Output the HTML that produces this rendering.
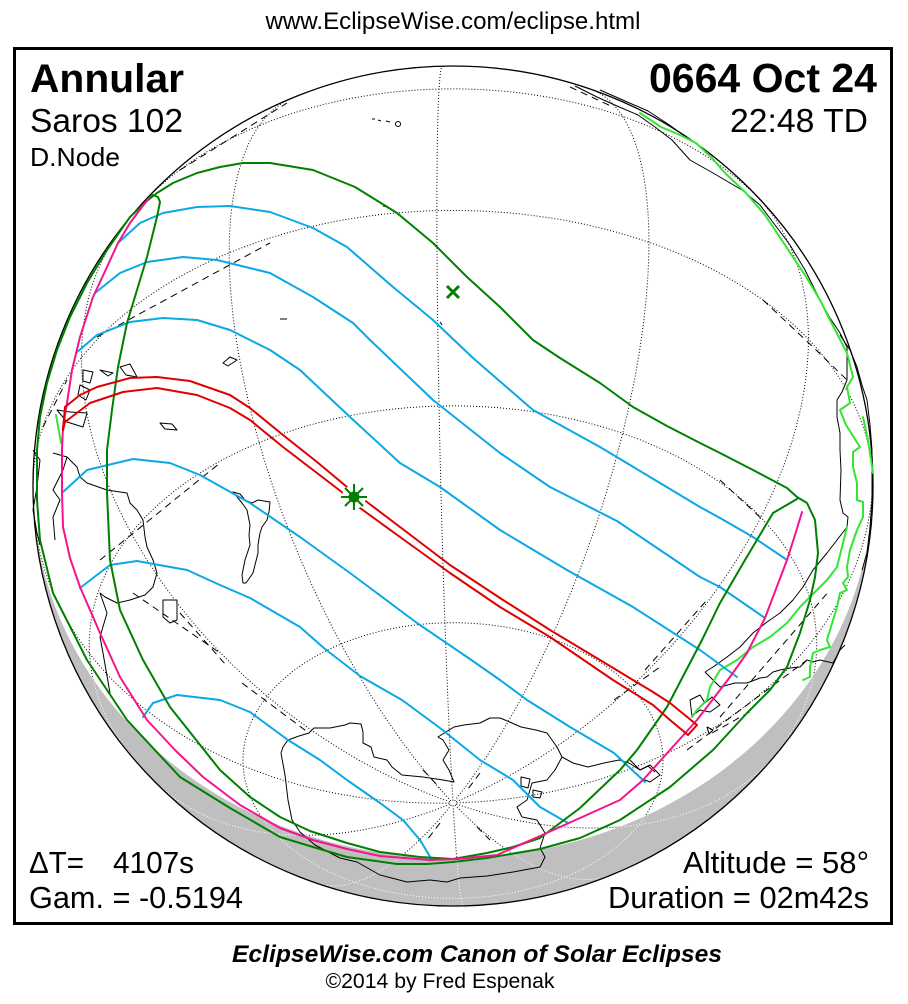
<!DOCTYPE html>
<html><head><meta charset="utf-8">
<style>html,body{margin:0;padding:0;background:#fff}svg{display:block}</style>
</head><body>
<svg width="908" height="1004" viewBox="0 0 908 1004" xmlns="http://www.w3.org/2000/svg" font-family="'Liberation Sans', Arial, sans-serif">
<defs>
<clipPath id="globe"><circle cx="453" cy="486" r="420"/></clipPath>
<clipPath id="day"><path d="M33.06,493.33 A420,372 -1 0,0 459.49,857.94 A420,372 -1 0,0 872.94,478.67 A420,420 0 0,0 453,66 A420,420 0 0,0 33.06,493.33 Z"/></clipPath>
</defs>
<rect width="908" height="1004" fill="#fff"/>

<!-- texts -->
<text x="453" y="29" font-size="24" text-anchor="middle" textLength="375" lengthAdjust="spacingAndGlyphs">www.EclipseWise.com/eclipse.html</text>
<rect x="14.5" y="48.5" width="877" height="875" fill="none" stroke="#000" stroke-width="3"/>

<!-- globe -->
<circle cx="453" cy="486" r="420" fill="#bfbfbf"/>
<path d="M33.06,493.33 A420,372 -1 0,0 459.49,857.94 A420,372 -1 0,0 872.94,478.67 A420,420 0 0,0 453,66 A420,420 0 0,0 33.06,493.33 Z" fill="#fff"/>
<g clip-path="url(#globe)"><path id="gw" d="" fill="none" stroke="#fff" stroke-width="1" stroke-dasharray="1 2"/></g>
<g clip-path="url(#day)"><path id="gb" d="" fill="none" stroke="#000" stroke-width="1" stroke-dasharray="1 2"/></g>

<!-- dashed lines -->
<g fill="none" stroke="#000" stroke-width="1" stroke-dasharray="7 5" clip-path="url(#globe)">
<path d="M100,560 L220,463"/>
<path d="M133,593 L220,653"/>
<path d="M180,613 L226,665"/>
<path d="M242,683 L309,733"/>
<path d="M614,700 L660,667"/>
<path d="M645,670 L707,600"/>
<path d="M712,733 L753,710"/>
<path d="M763,300 L813,347 L847,380"/>
<path d="M720,480 L763,520"/>
<path d="M687,750 L807,660"/>
<path d="M720,717 L830,590"/>
<path d="M97,337 L270,243"/>
<path d="M43,427 L67,380"/>
<path d="M180,170 L287,103"/>
<path d="M570,87 L613,107"/>
<path d="M423,770 L440,788"/>
<path d="M480,773 L468,789"/>
<path d="M440,823 L427,840"/>
<path d="M477,827 L490,840"/>
</g>

<!-- coastlines -->
<g fill="none" stroke="#000" stroke-width="1" stroke-linejoin="round">
<path d="M281,753 L283,747 288,740 299,736 309,733 314,728 330,728 345,725 350,723 361,724 363,732 363,743 371,747 374,757 387,760 392,767 402,775 423,777 443,780 454,782 449,770 443,760 449,750 443,740 438,737 449,730 454,727 464,725 480,723 490,718 500,718 505,720 521,727 536,730 547,733 552,740 557,747 562,757 573,763 588,767 604,763 619,760 629,763 640,770 648,766 655,772"/>
<path d="M281,753 L285,775 288,800 292,820 300,832 315,845 340,858 357,862 380,875 407,882 430,880 447,882 460,878 487,876 513,872 540,867 545,857 540,848 545,833 537,820 522,817 517,807 527,800 532,783 547,780 555,770 562,757"/>
<path d="M521,777 L530,779 528,788 521,786 Z M533,790 L542,792 540,798 533,797 Z"/>
<path d="M63,470 L67,457 77,467 80,477 87,483 107,490 120,492 127,493 130,503 137,510 143,520 145,537 147,547 153,560 157,573 153,587 145,595 130,600 117,603 105,597 100,593 107,613 100,637 103,653 110,693"/>
<path d="M33,450 L40,460 37,487 33,510 37,533 40,545"/>
<path d="M53,453 L67,457"/>
<path d="M63,470 L53,490 60,500 53,517 55,540"/>
<path d="M57,410 L70,412 87,413 83,427 67,422 Z"/>
<path d="M163,600 L177,600 177,620 170,623 163,617 Z"/>
<path d="M83,370 L93,372 90,383 83,381 Z"/>
<path d="M100,370 L113,373 108,376 Z"/>
<path d="M120,367 L130,364 137,377 126,375 Z"/>
<path d="M80,385 L90,390 86,400 78,395 Z"/>
<path d="M160,423 L172,424 177,430 165,429 Z"/>
<path d="M223,363 L230,357 237,360 228,366 Z"/>
<path d="M233,492 L240,494 245,500 252,503 258,500 270,502 269,512 267,520 262,527 260,533 258,545 258,553 255,565 253,573 246,583 243,583 242,575 245,560 250,545 249,535 250,525 247,510 242,503 Z"/>
<path d="M372,119 L375,119 M378,120 L381,121 M386,121 L390,122"/>
<circle cx="398" cy="124" r="2.5"/>
<path d="M280,319 L287,319 M440,322 L442,325 M383,206 L388,207"/>
<path d="M820,300 L830,318 840,333 847,347 847,365 847,380 842,392 837,400 837,417 840,433 840,450 841,470 840,500 843,513 848,517 847,527 837,540 827,553 813,570 803,587 793,600 780,613 767,622 753,633 740,647 727,657 713,667 705,672"/>
<path d="M840,335 L850,350 857,367 862,385 867,400 870,425 872,450 872,475 872,500 870,527 867,553 862,570"/>
<path d="M575,86 L597,97 617,106 638,115 655,127 672,140 690,160 713,173 742,190 760,205 775,225 790,245 805,270 820,300"/>
<path d="M600,90 L625,101 648,111 668,124 690,140"/>
<path d="M705,672 L720,687 735,683 747,683 760,678 767,677 773,672 780,670 790,668 800,667 807,660 813,662 820,660 833,663 840,650 845,645"/>
<path d="M690,700 L700,695 705,703 712,697 720,705 710,712 700,710 692,716 Z"/>
<path d="M707,727 L713,730 709,734 Z"/>
<path d="M630,760 L640,770 650,765 660,775 650,782 640,778"/>
</g>
<circle cx="453" cy="486" r="420" fill="none" stroke="#000" stroke-width="1.3"/>

<!-- colored curves -->
<g fill="none" stroke-width="2" stroke-linejoin="round" stroke-linecap="round">
<g stroke="#33e633">
<path d="M640,113 L661,127 680,135 696,143 712,158 725,173 745,192 765,215 785,245 805,275 820,300 830,320 847,353 853,377 847,387 850,403 840,410 846,425 860,447 853,452 853,467 857,483 857,500 863,502 863,517 857,530 850,550 847,567 848,577 843,583 847,590 840,593 837,607 830,630 827,640 830,647 820,650 813,653 810,667 810,677 803,680"/>
<path d="M863,417 L868,440 873,473"/>
<path d="M847,527 L837,567 827,580 810,597 800,607 787,623 770,637 753,647 737,660 720,670 710,687 707,700 697,710 692,717"/>
<path d="M56,415 L61,443"/>
</g>
<g stroke="#0aa8e6">
<path d="M118,243 L140,223 163,213 197,207 230,206 270,212 313,228 347,247 393,287 433,320 473,358 533,410 600,447 650,477 700,507 720,518 753,537 787,560"/>
<path d="M95,293 L120,273 147,262 183,257 217,260 270,273 313,297 353,323 370,340 433,400 500,453 550,487 617,521 660,550 700,577 720,587 765,618"/>
<path d="M76,353 L97,335 130,322 163,318 197,320 230,330 270,350 300,370 350,417 400,463 440,487 500,530 567,570 633,607 700,650 737,677"/>
<path d="M63,492 L87,470 133,459 170,463 200,475 250,503 300,537 350,573 417,623 467,657 500,680 527,700 570,727 614,753 645,782"/>
<path d="M80,588 L110,565 137,561 187,570 220,585 250,598 300,627 325,649 360,676 402,700 440,728 480,760 513,780 540,807 568,823"/>
<path d="M143,717 L153,703 177,695 220,700 250,712 288,740 320,760 347,780 380,803 403,820 420,840 432,860"/>
</g>
<g stroke="#008000">
<path d="M148,200 L157,193 173,183 197,173 220,167 243,163 270,163 313,170 355,187 397,213 433,243 467,277 500,307 533,340 560,358 600,383 633,407 667,426 700,443 720,453 753,470 787,488 797,497 807,503 815,520 818,553 815,577 810,600 800,633 787,667 770,690 747,713 713,750 670,787 620,820 580,838 540,849 487,858 453,862 427,864 397,864 347,857 313,847 280,837 230,808 180,777 127,720 87,660 53,593 40,540 37,500 37,450 40,417 47,383 57,350 70,317 87,283 107,250 130,217 148,200"/>
<path d="M148,200 L153,195 158,197 160,202 157,217 147,257 137,290 127,323 118,367 112,410 107,450 107,493 110,560 120,610 143,660 170,707 220,770 250,797 280,817 310,831 347,843 380,852 420,857 453,859 487,853 513,847 540,838 580,808 620,770 637,750 667,707 702,640 720,603 745,560 773,513 797,499"/>
</g>
<path stroke="#f5148c" d="M148,199 L130,223 118,243 107,267 93,297 80,337 72,370 67,403 63,427 62,450 62,493 63,527 70,558 80,587 100,633 120,677 147,720 175,750 203,777 240,805 280,828 313,840 347,849 380,856 430,860 457,859 497,855 540,836 580,818 620,800 643,780 670,750 697,720 730,677 747,653 765,618 787,560 795,535 802,512"/>
<g stroke="#e00000">
<path d="M65,407 L80,395 97,387 130,378 157,377 190,381 230,395 250,408 283,435 317,462 347,487 367,502 400,527 450,565 500,598 550,630 600,660 633,680 653,692 670,703 697,725 688,735"/>
<path d="M63,430 L65,422 90,403 123,392 157,388 197,395 230,408 250,420 283,447 317,473 343,493 360,508 400,537 450,573 500,607 550,637 613,680 653,705 670,720 688,735"/>
<path d="M65,407 L63,430"/>
</g>
</g>

<!-- markers -->
<circle cx="354" cy="497" r="12" fill="#fff"/>
<g stroke="#008000" stroke-width="2">
<path d="M341,497 L367,497 M354,484 L354,510 M345,488 L363,506 M363,488 L345,506"/>
</g>
<circle cx="354" cy="497" r="5.5" fill="#008000"/>
<path d="M447,286 L459,298 M459,286 L447,298" stroke="#008000" stroke-width="3"/>

<!-- header texts -->
<text x="30" y="92" font-size="40" font-weight="bold" textLength="154" lengthAdjust="spacingAndGlyphs">Annular</text>
<text x="877" y="92" font-size="41" font-weight="bold" text-anchor="end" textLength="228" lengthAdjust="spacingAndGlyphs">0664 Oct 24</text>
<text x="30" y="132" font-size="33" textLength="153" lengthAdjust="spacingAndGlyphs">Saros 102</text>
<text x="868" y="132" font-size="33" text-anchor="end" textLength="138" lengthAdjust="spacingAndGlyphs">22:48 TD</text>
<text x="30" y="166" font-size="26" textLength="90" lengthAdjust="spacingAndGlyphs">D.Node</text>

<!-- footer texts inside frame -->
<text x="29" y="873" font-size="31" textLength="55" lengthAdjust="spacingAndGlyphs">ΔT=</text>
<text x="113" y="873" font-size="31" textLength="81" lengthAdjust="spacingAndGlyphs">4107s</text>
<text x="29" y="908" font-size="31" textLength="214" lengthAdjust="spacingAndGlyphs">Gam. = -0.5194</text>
<text x="869" y="873" font-size="31" text-anchor="end" textLength="186" lengthAdjust="spacingAndGlyphs">Altitude = 58°</text>
<text x="869" y="908" font-size="31" text-anchor="end" textLength="261" lengthAdjust="spacingAndGlyphs">Duration = 02m42s</text>

<text x="477" y="962" font-size="24" font-weight="bold" font-style="italic" text-anchor="middle" textLength="490" lengthAdjust="spacingAndGlyphs">EclipseWise.com Canon of Solar Eclipses</text>
<text x="440" y="988" font-size="21" text-anchor="middle" textLength="229" lengthAdjust="spacingAndGlyphs">©2014 by Fred Espenak</text>
</svg>
<script>
(function(){
var R=420,cx=453,cy=486,d=Math.PI/180,p0=-41*d;
var sp=Math.sin(p0),cp=Math.cos(p0);
function proj(lat,lon){
  var f=lat*d,l=lon*d;
  var x=R*Math.cos(f)*Math.sin(l);
  var y=R*(cp*Math.sin(f)-sp*Math.cos(f)*Math.cos(l));
  var z=sp*Math.sin(f)+cp*Math.cos(f)*Math.cos(l);
  return [cx+x,cy-y,z];
}
var s='';
function trace(fn,t0,t1,st){
  var pen=false;
  for(var t=t0;t<=t1+1e-9;t+=st){
    var p=fn(t);
    if(p[2]>=0){s+=(pen?'L':'M')+p[0].toFixed(1)+','+p[1].toFixed(1);pen=true;}
    else pen=false;
  }
}
for(var k=-6;k<=6;k++){
  var lon=-2.2+30*k;
  trace(function(t){return proj(t,lon);},-89.5,89.5,1);
}
[-60,-30,0,30,60].forEach(function(lat){
  trace(function(t){return proj(lat,t);},-180,180,1);
});
document.getElementById('gw').setAttribute('d',s);
document.getElementById('gb').setAttribute('d',s);
})();
</script>
</body></html>
